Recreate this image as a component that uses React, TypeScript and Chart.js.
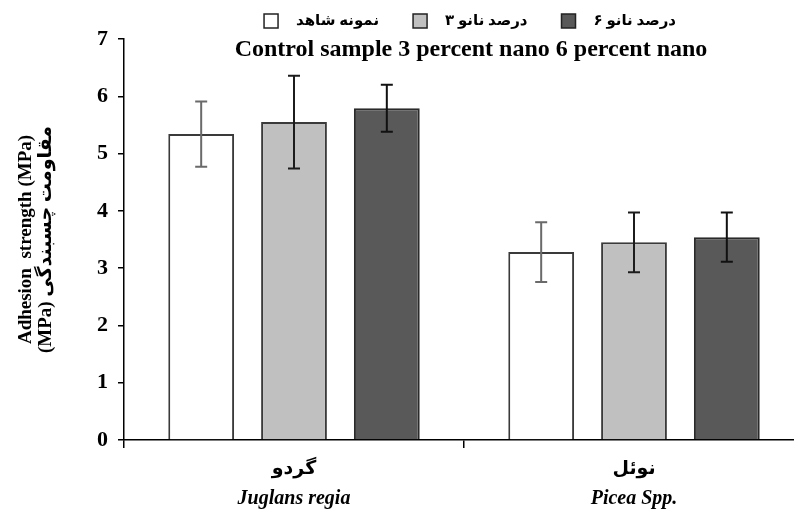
import React, { useEffect, useRef } from "react";
import { Chart, registerables } from "chart.js";

Chart.register(...registerables);

// ---- data ----
const speciesFa = ["گردو", "نوئل"];
const speciesLatin = ["Juglans regia", "Picea Spp."];
const seriesFa = ["نمونه شاهد", "۳ درصد نانو", "۶ درصد نانو"];
const seriesEnLine = "Control sample 3 percent nano 6 percent nano";
const controlValues = [5.34, 3.28];
const controlErrors = [0.57, 0.52];
const nano3Values = [5.55, 3.45];
const nano3Errors = [0.81, 0.52];
const nano6Values = [5.79, 3.54];
const nano6Errors = [0.41, 0.43];
const yAxisTitle = ["Adhesion  strength (MPa)", "(MPa) مقاومت چسبندگی"];
const yMin = 0;
const yMax = 7;
const yStep = 1;

const fillColors = ["#ffffff", "#c0c0c0", "#595959"];
const errorColors = ["#6a6a6a", "#1c1c1c", "#111111"];

const SERIF = "'Liberation Serif', 'Times New Roman', 'DejaVu Sans', serif";

const errorBarPlugin = {
  id: "errorBars",
  afterDatasetsDraw(chart: any) {
    const ctx = chart.ctx;
    const y = chart.scales.y;
    chart.data.datasets.forEach((ds: any, di: number) => {
      const meta = chart.getDatasetMeta(di);
      meta.data.forEach((bar: any, i: number) => {
        const v = ds.data[i];
        const e = ds.errors[i];
        const yt = y.getPixelForValue(v + e);
        const yb = y.getPixelForValue(v - e);
        ctx.save();
        ctx.strokeStyle = ds.errorColor;
        ctx.lineWidth = 2;
        ctx.beginPath();
        ctx.moveTo(bar.x, yt);
        ctx.lineTo(bar.x, yb);
        ctx.moveTo(bar.x - 6, yt);
        ctx.lineTo(bar.x + 6, yt);
        ctx.moveTo(bar.x - 6, yb);
        ctx.lineTo(bar.x + 6, yb);
        ctx.stroke();
        ctx.restore();
      });
    });
  },
};

const legendPlugin = {
  id: "twoLineLegend",
  afterDraw(chart: any) {
    const ctx = chart.ctx;
    const centerX = 470;
    ctx.save();
    // Persian row with boxes
    const box = 14;
    const gap = 18;
    const spacing = 34;
    ctx.font = `bold 15px ${SERIF}`;
    const items = chart.data.datasets.map((ds: any) => ({
      text: ds.label,
      color: ds.backgroundColor,
      w: ctx.measureText(ds.label).width,
    }));
    const total =
      items.reduce((s: number, it: any) => s + box + gap + it.w, 0) +
      spacing * (items.length - 1);
    let x = centerX - total / 2;
    const rowY = 21;
    items.forEach((it: any) => {
      ctx.fillStyle = it.color;
      ctx.fillRect(x, rowY - box / 2, box, box);
      ctx.strokeStyle = "#222";
      ctx.lineWidth = 1.5;
      ctx.strokeRect(x, rowY - box / 2, box, box);
      ctx.fillStyle = "#000";
      ctx.textAlign = "left";
      ctx.textBaseline = "middle";
      ctx.fillText(it.text, x + box + gap, rowY);
      x += box + gap + it.w + spacing;
    });
    // English line
    ctx.font = `bold 24px ${SERIF}`;
    ctx.fillStyle = "#000";
    ctx.textAlign = "center";
    ctx.textBaseline = "alphabetic";
    ctx.fillText(seriesEnLine, 471, 56);
    ctx.restore();
  },
};

export default function App() {
  const canvasRef = useRef<HTMLCanvasElement | null>(null);

  useEffect(() => {
    const canvas = canvasRef.current;
    if (!canvas) return;
    const chart = new Chart(canvas, {
      type: "bar",
      data: {
        labels: speciesFa,
        datasets: [
          {
            label: seriesFa[0],
            data: controlValues,
            errors: controlErrors,
            errorColor: errorColors[0],
            backgroundColor: fillColors[0],
            borderColor: "#3a3a3a",
            borderWidth: 2,
          } as any,
          {
            label: seriesFa[1],
            data: nano3Values,
            errors: nano3Errors,
            errorColor: errorColors[1],
            backgroundColor: fillColors[1],
            borderColor: "#3a3a3a",
            borderWidth: 2,
          } as any,
          {
            label: seriesFa[2],
            data: nano6Values,
            errors: nano6Errors,
            errorColor: errorColors[2],
            backgroundColor: fillColors[2],
            borderColor: "#2a2a2a",
            borderWidth: 2,
          } as any,
        ],
      },
      options: {
        responsive: false,
        animation: false,
        devicePixelRatio: 1,
        layout: { padding: { top: 39, left: 0, right: 0, bottom: 0 } },
        datasets: {
          bar: { categoryPercentage: 0.819, barPercentage: 0.709 },
        },
        plugins: {
          legend: { display: false },
          title: { display: false },
          tooltip: { enabled: false },
        },
        scales: {
          x: {
            type: "category",
            position: "bottom",
            weight: 0,
            offset: true,
            grid: {
              offset: true,
              drawOnChartArea: false,
              drawTicks: true,
              tickLength: 8,
              color: "#000",
              lineWidth: 1.5,
            },
            border: { display: true, color: "#000", width: 1.5 },
            ticks: {
              color: "#000",
              font: { family: SERIF, size: 19, weight: "bold" },
              padding: 10,
            },
            afterFit: (scale: any) => {
              scale.height = 42;
            },
          },
          x2: {
            type: "category",
            position: "bottom",
            weight: 1,
            offset: true,
            labels: speciesLatin,
            grid: { display: false, drawTicks: false },
            border: { display: false },
            ticks: {
              color: "#000",
              font: { family: SERIF, size: 20, weight: "bold", style: "italic" },
              padding: 5,
            },
            afterFit: (scale: any) => {
              scale.height = 28;
            },
          },
          y: {
            min: yMin,
            max: yMax,
            ticks: {
              stepSize: yStep,
              color: "#000",
              font: { family: SERIF, size: 22, weight: "bold" },
              padding: 10,
            },
            grid: {
              drawOnChartArea: false,
              drawTicks: true,
              tickLength: 6,
              color: "#000",
              lineWidth: 1.5,
            },
            border: { display: true, color: "#000", width: 1.5 },
            title: {
              display: true,
              text: yAxisTitle,
              color: "#000",
              font: { family: SERIF, size: 19, weight: "bold", lineHeight: 1.05 },
              padding: { top: 16, bottom: 0 },
            },
            afterFit: (scale: any) => {
              scale.width = 124;
            },
          },
        },
      } as any,
      plugins: [errorBarPlugin, legendPlugin],
    });
    return () => chart.destroy();
  }, []);

  return (
    <div
      style={{
        position: "fixed",
        left: 0,
        top: 0,
        width: 794,
        height: 510,
        overflow: "hidden",
        background: "#fff",
      }}
    >
      <canvas ref={canvasRef} width={804} height={510} style={{ display: "block" }} />
    </div>
  );
}
